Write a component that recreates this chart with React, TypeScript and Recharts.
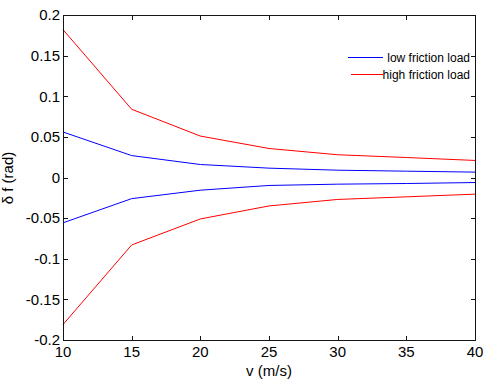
import { Line, LineChart, XAxis, YAxis } from "recharts";

// speed (m/s) along the x axis
const speeds = [10, 15, 20, 25, 30, 35, 40];

// steering deviation bounds (rad) for each load case
const lowUpper = [0.056, 0.027, 0.016, 0.0115, 0.009, 0.0078, 0.0066];
const lowLower = [-0.0558, -0.026, -0.0156, -0.0098, -0.0082, -0.0074, -0.0062];
const highUpper = [0.182, 0.084, 0.051, 0.0357, 0.028, 0.0246, 0.021];
const highLower = [-0.181, -0.083, -0.051, -0.035, -0.027, -0.0238, -0.0205];

const xTicks = [10, 15, 20, 25, 30, 35, 40];
const yTicks = [-0.2, -0.15, -0.1, -0.05, 0, 0.05, 0.1, 0.15, 0.2];

const legendNames = ["low friction load", "high friction load"];

const BLUE = "#0000ff";
const RED = "#ff0000";
const INK = "#141414";
const FONT = '"Liberation Sans", Arial, sans-serif';

const WIDTH = 486;
const HEIGHT = 379;
const MARGIN = { top: 15, right: 11, left: 0, bottom: 0 };
const Y_AXIS_W = 63;
const X_AXIS_H = 39;
const PLOT_X = MARGIN.left + Y_AXIS_W;
const PLOT_Y = MARGIN.top;
const PLOT_W = WIDTH - MARGIN.left - MARGIN.right - Y_AXIS_W;
const PLOT_H = HEIGHT - MARGIN.top - MARGIN.bottom - X_AXIS_H;
const TICK = 4; // inward tick length

const X_DOMAIN = [10, 40];
const Y_DOMAIN = [-0.2, 0.2];

const data = speeds.map((v, i) => ({
  v,
  lowUpper: lowUpper[i],
  lowLower: lowLower[i],
  highUpper: highUpper[i],
  highLower: highLower[i],
}));

const tickStyle = { fontSize: 15, fontFamily: FONT, fill: "#000" };

// box frame with inward ticks on all four sides, built from thin filled rects
function Frame() {
  const px = (v: number) => PLOT_X + ((v - X_DOMAIN[0]) / (X_DOMAIN[1] - X_DOMAIN[0])) * PLOT_W;
  const py = (v: number) => PLOT_Y + ((Y_DOMAIN[1] - v) / (Y_DOMAIN[1] - Y_DOMAIN[0])) * PLOT_H;
  const bottom = PLOT_Y + PLOT_H;
  const right = PLOT_X + PLOT_W;
  const bars: { x: number; y: number; w: number; h: number }[] = [
    { x: PLOT_X, y: PLOT_Y, w: PLOT_W + 1, h: 1 },
    { x: PLOT_X, y: bottom, w: PLOT_W + 1, h: 1 },
    { x: PLOT_X, y: PLOT_Y, w: 1, h: PLOT_H + 1 },
    { x: right, y: PLOT_Y, w: 1, h: PLOT_H + 1 },
  ];
  xTicks.forEach((t) => {
    const x = Math.round(px(t));
    bars.push({ x, y: bottom - TICK, w: 1, h: TICK });
    bars.push({ x, y: PLOT_Y + 1, w: 1, h: TICK });
  });
  yTicks.forEach((t) => {
    const y = Math.round(py(t));
    bars.push({ x: PLOT_X + 1, y, w: TICK, h: 1 });
    bars.push({ x: right - TICK, y, w: TICK, h: 1 });
  });
  const colors = [BLUE, RED];
  const legendRows = [
    { y: 57, x0: 348 },
    { y: 74, x0: 351 },
  ];
  return (
    <svg
      width={WIDTH}
      height={HEIGHT}
      style={{ position: "absolute", left: 0, top: 0, pointerEvents: "none" }}
    >
      {bars.map((b, i) => (
        <rect key={i} x={b.x} y={b.y} width={b.w} height={b.h} fill={INK} />
      ))}
      {legendNames.map((name, i) => (
        <g key={name}>
          <rect x={legendRows[i].x0} y={legendRows[i].y} width={383 - legendRows[i].x0} height={1} fill={colors[i]} />
          <text x={470} y={legendRows[i].y + 4.8} textAnchor="end" fontSize={12} fontFamily={FONT} fill="#000">
            {name}
          </text>
        </g>
      ))}
      <text
        x={13}
        y={178}
        transform="rotate(-90, 13, 178)"
        textAnchor="middle"
        fontFamily={FONT}
        fontSize={15}
        fill="#000"
      >
        δ f (rad)
      </text>
      <text x={269} y={376} textAnchor="middle" fontFamily={FONT} fontSize={15} fill="#000">
        v (m/s)
      </text>
    </svg>
  );
}

export default function App() {
  return (
    <div style={{ position: "absolute", left: 0, top: 0, width: WIDTH, height: HEIGHT, background: "#fff" }}>
      <LineChart width={WIDTH} height={HEIGHT} data={data} margin={MARGIN}>
        <XAxis
          dataKey="v"
          type="number"
          domain={X_DOMAIN}
          ticks={xTicks}
          height={X_AXIS_H}
          tickSize={0}
          tickMargin={6}
          axisLine={false}
          tickLine={false}
          tick={tickStyle}
        />
        <YAxis
          type="number"
          domain={Y_DOMAIN}
          ticks={yTicks}
          width={Y_AXIS_W}
          tickSize={0}
          tickMargin={3}
          axisLine={false}
          tickLine={false}
          tick={tickStyle}
        />
        <Line dataKey="lowUpper" name={legendNames[0]} stroke={BLUE} strokeWidth={1} dot={false} isAnimationActive={false} />
        <Line dataKey="highUpper" name={legendNames[1]} stroke={RED} strokeWidth={1} dot={false} isAnimationActive={false} />
        <Line dataKey="lowLower" stroke={BLUE} strokeWidth={1} dot={false} isAnimationActive={false} />
        <Line dataKey="highLower" stroke={RED} strokeWidth={1} dot={false} isAnimationActive={false} />
      </LineChart>
      <Frame />
    </div>
  );
}
